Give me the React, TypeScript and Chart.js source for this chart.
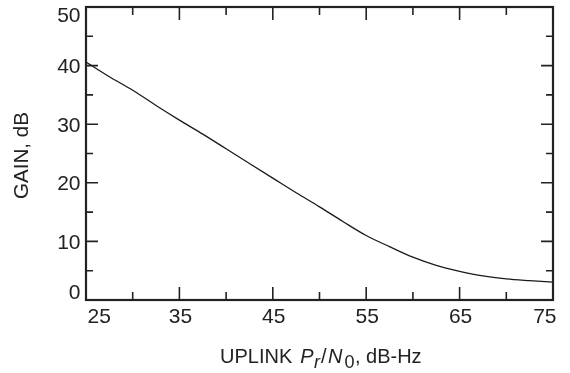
import React, { useEffect, useRef } from "react";
import { Chart, registerables } from "chart.js";

Chart.register(...registerables);

// Data
const uplinkDbHz = [25, 27.5, 30, 32.5, 35, 37.5, 40, 42.5, 45, 47.5, 50, 52.5, 55, 57.5, 60, 62.5, 65, 67.5, 70, 72.5, 75];
const gainDb = [40.6, 38.1, 35.8, 33.2, 30.7, 28.3, 25.8, 23.3, 20.8, 18.3, 15.9, 13.4, 11.0, 9.1, 7.3, 5.9, 4.9, 4.1, 3.6, 3.3, 3.05];

const xTickValues = [25, 35, 45, 55, 65, 75];
const xMinorTicks = [30, 40, 50, 60, 70];
const yTickValues = [0, 10, 20, 30, 40, 50];
const yMinorTicks = [5, 15, 25, 35, 45];
const yAxisTitle = "GAIN, dB";
const xTitleParts = [
  { text: "UPLINK ", italic: false, sub: false, gap: 0 },
  { text: "P", italic: true, sub: false, gap: 2.5 },
  { text: "r", italic: true, sub: true, gap: 0.3 },
  { text: "/", italic: false, sub: false, gap: 1 },
  { text: "N", italic: true, sub: false, gap: 1.5 },
  { text: "0", italic: false, sub: true, gap: 2 },
  { text: ", dB-Hz", italic: false, sub: false, gap: 0.5 },
];

const FONT = '"Liberation Sans", Arial, Helvetica, sans-serif';
const INK = "#222222";

const framePlugin = {
  id: "frameAndAxes",
  afterDraw(chart: any) {
    const ctx = chart.ctx as CanvasRenderingContext2D;
    const { left, right, top, bottom } = chart.chartArea;
    const xs = chart.scales.x;
    const ys = chart.scales.y;
    ctx.save();
    ctx.strokeStyle = INK;
    ctx.lineWidth = 2.2;
    ctx.strokeRect(left, top, right - left, bottom - top);

    ctx.lineWidth = 1.6;
    ctx.beginPath();
    const xTick = (v: number, len: number) => {
      const p = xs.getPixelForValue(v);
      ctx.moveTo(p, bottom);
      ctx.lineTo(p, bottom - len);
      ctx.moveTo(p, top);
      ctx.lineTo(p, top + len);
    };
    const yTick = (v: number, len: number) => {
      const p = ys.getPixelForValue(v);
      ctx.moveTo(left, p);
      ctx.lineTo(left + len, p);
      ctx.moveTo(right, p);
      ctx.lineTo(right - len, p);
    };
    xTickValues.forEach((v) => xTick(v, 13));
    xMinorTicks.forEach((v) => xTick(v, 8));
    yTickValues.forEach((v) => yTick(v, 12));
    yMinorTicks.forEach((v) => yTick(v, 7));
    ctx.stroke();

    ctx.fillStyle = INK;
    ctx.font = `21px ${FONT}`;
    ctx.textBaseline = "alphabetic";
    // x tick labels
    xTickValues.forEach((v, i) => {
      const p = xs.getPixelForValue(v);
      if (i === 0) {
        ctx.textAlign = "left";
        ctx.fillText(String(v), p + 1.5, bottom + 23);
      } else if (i === xTickValues.length - 1) {
        ctx.textAlign = "right";
        ctx.fillText(String(v), p + 3.5, bottom + 23);
      } else {
        ctx.textAlign = "center";
        ctx.fillText(String(v), p + 1, bottom + 23);
      }
    });
    // y tick labels
    ctx.textAlign = "right";
    yTickValues.forEach((v, i) => {
      const p = ys.getPixelForValue(v);
      let y = p + 7.5;
      if (i === 0) y = p - 1.5;
      if (i === yTickValues.length - 1) y = p + 14.8;
      ctx.fillText(String(v), left - 5.5, y);
    });

    // y title
    ctx.save();
    ctx.translate(28, (top + bottom) / 2 + 2);
    ctx.rotate(-Math.PI / 2);
    ctx.textAlign = "center";
    ctx.font = `20.6px ${FONT}`;
    ctx.fillText(yAxisTitle, 0, 0);
    ctx.restore();

    // x title with italic/subscript parts
    const mainSize = 20;
    const subSize = 18;
    const fontFor = (p: any) => `${p.italic ? "italic " : ""}${p.sub ? subSize : mainSize}px ${FONT}`;
    let total = 0;
    const widths = xTitleParts.map((p) => {
      ctx.font = fontFor(p);
      const w = ctx.measureText(p.text).width;
      total += w + p.gap;
      return w;
    });
    let x = (left + right) / 2 + 1.3 - total / 2;
    const baseY = 363;
    ctx.textAlign = "left";
    xTitleParts.forEach((p, i) => {
      x += p.gap;
      ctx.font = fontFor(p);
      ctx.fillText(p.text, x, p.sub ? baseY + 5 : baseY);
      x += widths[i];
    });
    ctx.restore();
  },
};

export default function App() {
  const ref = useRef<HTMLCanvasElement | null>(null);
  useEffect(() => {
    document.body.style.margin = "0";
    const canvas = ref.current;
    if (!canvas) return;
    const chart = new Chart(canvas, {
      type: "line",
      data: {
        labels: uplinkDbHz,
        datasets: [
          {
            data: uplinkDbHz.map((x, i) => ({ x, y: gainDb[i] })),
            borderColor: "#1a1a1a",
            borderWidth: 1.3,
            pointRadius: 0,
            cubicInterpolationMode: "monotone",
            fill: false,
          },
        ],
      },
      options: {
        responsive: false,
        animation: false,
        devicePixelRatio: 1,
        layout: { padding: { left: 86, right: 17, top: 7, bottom: 73 } },
        plugins: { legend: { display: false }, tooltip: { enabled: false } },
        scales: {
          x: { type: "linear", min: 25, max: 75, display: false },
          y: { type: "linear", min: 0, max: 50, display: false },
        },
      },
      plugins: [framePlugin],
    });
    return () => chart.destroy();
  }, []);
  return (
    <div style={{ position: "absolute", left: 0, top: 0, width: 570, height: 373, background: "#fff" }}>
      <canvas ref={ref} width={570} height={373} style={{ display: "block" }} />
    </div>
  );
}
